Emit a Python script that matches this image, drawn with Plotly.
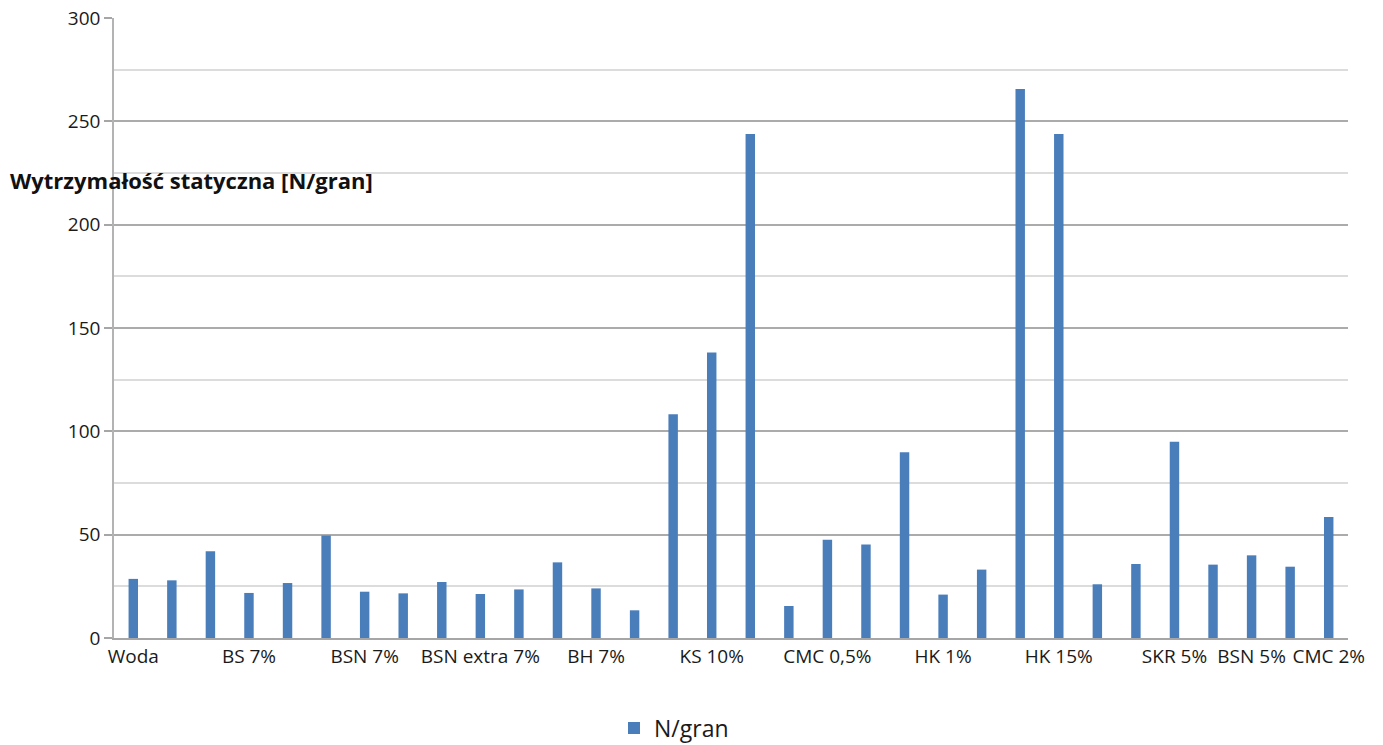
import plotly.graph_objects as go

# Data
positions = list(range(32))
values = [28.6, 27.9, 42.0, 21.8, 26.6, 49.6, 22.4, 21.6, 27.1, 21.3, 23.5, 36.6,
          24.0, 13.4, 108.3, 138.2, 243.9, 15.5, 47.6, 45.2, 89.9, 21.0, 33.1,
          265.6, 243.9, 26.0, 35.8, 95.0, 35.5, 40.0, 34.5, 58.6]
label_positions = [0, 3, 6, 9, 12, 15, 18, 21, 24, 27, 29, 31]
label_texts = ["Woda", "BS 7%", "BSN 7%", "BSN extra 7%", "BH 7%", "KS 10%",
               "CMC 0,5%", "HK 1%", "HK 15%", "SKR 5%", "BSN 5%", "CMC 2%"]
y_title = "Wytrzymałość statyczna [N/gran]"
series_name = "N/gran"

W, H = 1383, 745
ml, mr, mt, mb = 114, 35, 18, 107
pw = W - ml - mr
ph = H - mt - mb

fig = go.Figure()
fig.add_trace(go.Bar(
    x=positions, y=values, name=series_name,
    marker=dict(color="#4a7ebb", line=dict(width=0)),
    width=0.245, showlegend=True,
))

fig.update_layout(
    width=W, height=H,
    margin=dict(l=ml, r=mr, t=mt, b=mb, autoexpand=False),
    paper_bgcolor="white", plot_bgcolor="white",
    font=dict(family="Open Sans", size=19, color="#1a1a1a"),
    showlegend=True,
    legend=dict(orientation="h", x=(614 - ml) / pw, xanchor="left",
                y=-(728 - (H - mb)) / ph, yanchor="middle",
                font=dict(size=23, color="#1a1a1a"),
                itemwidth=30, bgcolor="rgba(0,0,0,0)"),
)

fig.update_xaxes(
    range=[-0.5, 31.5],
    tickmode="array", tickvals=label_positions, ticktext=label_texts,
    showgrid=False, zeroline=False,
    showline=True, linecolor="#a6a6a6", linewidth=2,
    ticks="", tickfont=dict(size=19, color="#1a1a1a"),
    ticklabeloverflow="allow", automargin=False,
)
fig.update_yaxes(
    range=[0, 300], dtick=50, tick0=0,
    showgrid=True, gridcolor="#ababab", gridwidth=1.5,
    minor=dict(dtick=25, showgrid=True, gridcolor="#dcdcdc", gridwidth=1.5),
    zeroline=False,
    showline=True, linecolor="#b3b3b3", linewidth=1.5,
    ticks="outside", ticklen=8, tickcolor="#a6a6a6", tickwidth=1.5,
    tickfont=dict(size=19, color="#1a1a1a"), automargin=False,
)

fig.add_annotation(
    text="<b>" + y_title + "</b>",
    xref="paper", yref="paper",
    x=(8 - ml) / pw, y=(H - mb - 180) / ph,
    xanchor="left", yanchor="middle", showarrow=False,
    font=dict(size=22, color="#111111", family="Open Sans"),
)

fig.write_html("out.html")
